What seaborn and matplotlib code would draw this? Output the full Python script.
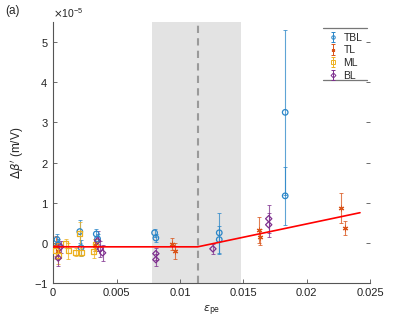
import numpy as np
import pandas as pd
import matplotlib
matplotlib.use("Agg")
import matplotlib.pyplot as plt
import seaborn as sns

# values in units of 1e-5 m/V
tbl_x = [0.0003, 0.0004, 0.0021, 0.0022, 0.0034, 0.0035, 0.0080, 0.0081, 0.0131, 0.0131, 0.0183, 0.0183]
tbl_y = [0.08, -0.05, 0.28, -0.12, 0.22, 0.10, 0.25, 0.12, 0.25, 0.08, 3.25, 1.17]
tbl_e = [0.15, 0.15, 0.28, 0.20, 0.12, 0.12, 0.10, 0.10, 0.50, 0.35, 2.05, 0.72]

tl_x = [0.0002, 0.0004, 0.0033, 0.0094, 0.0096, 0.0162, 0.0163, 0.0227, 0.0230]
tl_y = [-0.08, -0.20, -0.05, -0.02, -0.21, 0.32, 0.15, 0.86, 0.37]
tl_e = [0.25, 0.20, 0.15, 0.15, 0.20, 0.33, 0.20, 0.37, 0.17]

ml_x = [0.0002, 0.0004, 0.0010, 0.0012, 0.0018, 0.0021, 0.0022, 0.0032, 0.0033]
ml_y = [-0.20, -0.32, -0.02, -0.20, -0.24, 0.22, -0.24, -0.22, -0.05]
ml_e = [0.20, 0.20, 0.12, 0.20, 0.10, 0.30, 0.10, 0.15, 0.15]

bl_x = [0.0004, 0.0006, 0.0035, 0.0037, 0.0039, 0.0081, 0.0081, 0.0126, 0.0170, 0.0170]
bl_y = [-0.38, -0.10, 0.05, -0.15, -0.25, -0.27, -0.42, -0.15, 0.60, 0.45]
bl_e = [0.20, 0.15, 0.25, 0.20, 0.20, 0.15, 0.15, 0.13, 0.35, 0.30]

fit_x = [0, 0.0114, 0.0242]
fit_y = [-0.10, -0.10, 0.75]

shade_lo, shade_hi, crit = 0.0078, 0.0148, 0.0114

groups = ["TBL", "TL", "ML", "BL"]
colors = {"TBL": "#2a86c8", "TL": "#D95319", "ML": "#EDB120", "BL": "#7E2F8E"}
markers = {"TBL": "o", "TL": (6, 2, 0), "ML": "s", "BL": "D"}
msizes = {"TBL": 4, "TL": 4, "ML": 3.6, "BL": 3.2}

rows = []
for g, xs, ys, es in [("TBL", tbl_x, tbl_y, tbl_e), ("TL", tl_x, tl_y, tl_e),
                      ("ML", ml_x, ml_y, ml_e), ("BL", bl_x, bl_y, bl_e)]:
    for x, y, e in zip(xs, ys, es):
        rows.append({"group": g, "eps": x, "dbeta": y * 1e-5, "err": e * 1e-5})
df = pd.DataFrame(rows)

sns.set_style("ticks")
plt.rcParams['font.family'] = ['Liberation Sans', 'DejaVu Sans']
plt.rcParams['mathtext.fontset'] = 'dejavusans'

fig = plt.figure(figsize=(4.09, 3.19), dpi=100)
ax = fig.add_axes([0.130, 0.113, 0.775, 0.818])

ax.axvspan(shade_lo, shade_hi, color="#e3e3e3", lw=0, zorder=0)
ax.axvline(crit, color="#9a9a9a", ls=(0, (3.5, 2.5)), lw=1.5, zorder=1)

for g in groups:
    d = df[df["group"] == g]
    ax.errorbar(d["eps"], d["dbeta"], yerr=d["err"], fmt="none",
                ecolor=colors[g], elinewidth=0.8, capsize=1.6, capthick=0.7,
                alpha=0.75, zorder=2)
    if g == "TL":
        sns.scatterplot(data=d, x="eps", y="dbeta", ax=ax, marker=markers[g],
                        s=12, color=colors[g], linewidth=0.8, zorder=3, legend=False)
    else:
        sns.scatterplot(data=d, x="eps", y="dbeta", ax=ax, marker=markers[g],
                        s=msizes[g] ** 2, facecolor="none", edgecolor=colors[g],
                        linewidth=0.9, zorder=3, legend=False)

sns.lineplot(x=fit_x, y=[v * 1e-5 for v in fit_y], ax=ax,
             color="#ff0000", lw=1.2, zorder=4)

ax.set_xlim(0, 0.025)
ax.set_ylim(-1e-5, 5.5e-5)
ax.set_xticks([0, 0.005, 0.01, 0.015, 0.02, 0.025])
ax.set_xticklabels(["0", "0.005", "0.01", "0.015", "0.02", "0.025"])
ax.set_yticks([i * 1e-5 for i in range(-1, 6)])
ax.ticklabel_format(axis="y", style="sci", scilimits=(0, 0), useMathText=True)
ax.yaxis.get_offset_text().set_fontsize(7.5)
ax.yaxis.get_offset_text().set_color("#333333")

for s in ["top", "right"]:
    ax.spines[s].set_visible(False)
for s in ["left", "bottom"]:
    ax.spines[s].set_color("#555555")
    ax.spines[s].set_linewidth(0.8)
ax.tick_params(direction="in", length=3, width=0.6, colors="#555555",
               labelcolor="#222222", labelsize=8, right=True, top=False)

ax.set_xlabel(r"$\epsilon_{\rm pe}$", fontsize=8, labelpad=4)
ax.set_ylabel(r"$\Delta\beta'$ (m/V)", fontsize=8.5, labelpad=6)
fig.text(0.012, 0.955, "(a)", fontsize=8.5)

# legend handles: errorbar symbols off-screen (NaN)
handles = []
for g in groups:
    h = ax.errorbar([np.nan], [np.nan], yerr=[np.nan], color=colors[g],
                    marker=markers[g], mfc="none" if g != "TL" else colors[g],
                    ms=2.5, mew=0.7, elinewidth=0.7, capsize=1.5, ls="none")
    handles.append(h)
leg = ax.legend(handles, groups, loc="upper left", bbox_to_anchor=(0.86, 0.975),
                frameon=False, fontsize=7.5, handlelength=0.5, handletextpad=0.8,
                labelspacing=0.25, borderaxespad=0)
for yy in (0.977, 0.778):
    ax.plot([0.852, 0.99], [yy, yy], transform=ax.transAxes, color="#777777",
            lw=0.9, clip_on=False)

fig.savefig("out.png", dpi=100)
